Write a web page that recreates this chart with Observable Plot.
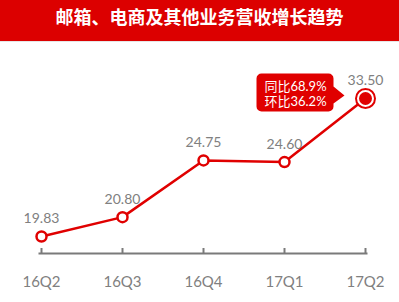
<!DOCTYPE html>
<html><head><meta charset="utf-8">
<script src="https://cdn.jsdelivr.net/npm/d3@7"></script>
<script src="https://cdn.jsdelivr.net/npm/@observablehq/plot@0.6"></script>
<style>
body{margin:0;background:#fff;width:399px;height:302px;overflow:hidden}
#title{height:41px;background:#dc0000;color:#fff;font:bold 18px "Noto Sans CJK SC",sans-serif;text-align:center;line-height:33px;border-bottom:1px solid #e6e6e6}
</style></head><body>
<div id="title"></div>
<div id="chart"></div>
<script>
const title = "邮箱、电商及其他业务营收增长趋势";
const quarters = ["16Q2", "16Q3", "16Q4", "17Q1", "17Q2"];
const revenue = [19.83, 20.80, 24.75, 24.60, 33.50];
const callout = ["同比68.9%", "环比36.2%"];

const RED = "#e00000", GRAY = "#808080", AXIS = "#7a7a7a";
document.getElementById("title").textContent = title;

const data = quarters.map((q, i) => ({q, v: revenue[i]}));
const last = [data[data.length - 1]];
const rest = data.slice(0, -1);

// speech-bubble shape drawn relative to the highlighted point
const calloutShape = {
  draw(ctx) {
    const x0 = -109, x1 = -32, y0 = -25, y1 = 13, r = 5;
    ctx.moveTo(x0 + r, y0);
    ctx.lineTo(x1 - r, y0);
    ctx.arcTo(x1, y0, x1, y0 + r, r);
    ctx.lineTo(x1, -12);
    ctx.lineTo(-21, -3);
    ctx.lineTo(x1, 5);
    ctx.lineTo(x1, y1 - r);
    ctx.arcTo(x1, y1, x1 - r, y1, r);
    ctx.lineTo(x0 + r, y1);
    ctx.arcTo(x0, y1, x0, y1 - r, r);
    ctx.lineTo(x0, y0 + r);
    ctx.arcTo(x0, y0, x0 + r, y0, r);
    ctx.closePath();
  }
};

const plot = Plot.plot({
  width: 399, height: 260,
  marginTop: 0, marginLeft: 39, marginRight: 33, marginBottom: 49,
  style: {fontFamily: "Lato, 'Noto Sans CJK SC', sans-serif", background: "transparent"},
  x: {type: "point", domain: quarters, padding: 0, label: null},
  y: {type: "pow", exponent: -2, domain: d3.extent(revenue), range: [194, 56], axis: null},
  marks: [
    Plot.frame({anchor: "bottom", stroke: AXIS, strokeWidth: 2}),
    Plot.tickX(quarters, {x: d => d, stroke: AXIS, strokeWidth: 2, insetTop: 206}),
    Plot.axisX({tickSize: 0, tickPadding: 23, fontSize: 15, fill: GRAY, label: null}),
    Plot.line(data, {x: "q", y: "v", stroke: RED, strokeWidth: 2.5}),
    Plot.dot(rest, {x: "q", y: "v", r: 5, fill: "white", stroke: RED, strokeWidth: 2.5}),
    Plot.dot(last, {x: "q", y: "v", r: 9.5, fill: "white", stroke: RED, strokeWidth: 2}),
    Plot.dot(last, {x: "q", y: "v", r: 6.5, fill: RED}),
    Plot.text(data, {x: "q", y: "v", text: d => d.v.toFixed(2), dy: -18, fill: GRAY, fontSize: 14}),
    Plot.dot(last, {x: "q", y: "v", symbol: calloutShape, r: 5, fill: RED}),
    Plot.text(last, {x: "q", y: "v", text: () => callout.join("\n"), dx: -70, dy: -5, fill: "white", fontSize: 13, lineHeight: 1.15})
  ]
});
document.getElementById("chart").appendChild(plot);
</script>
</body></html>
